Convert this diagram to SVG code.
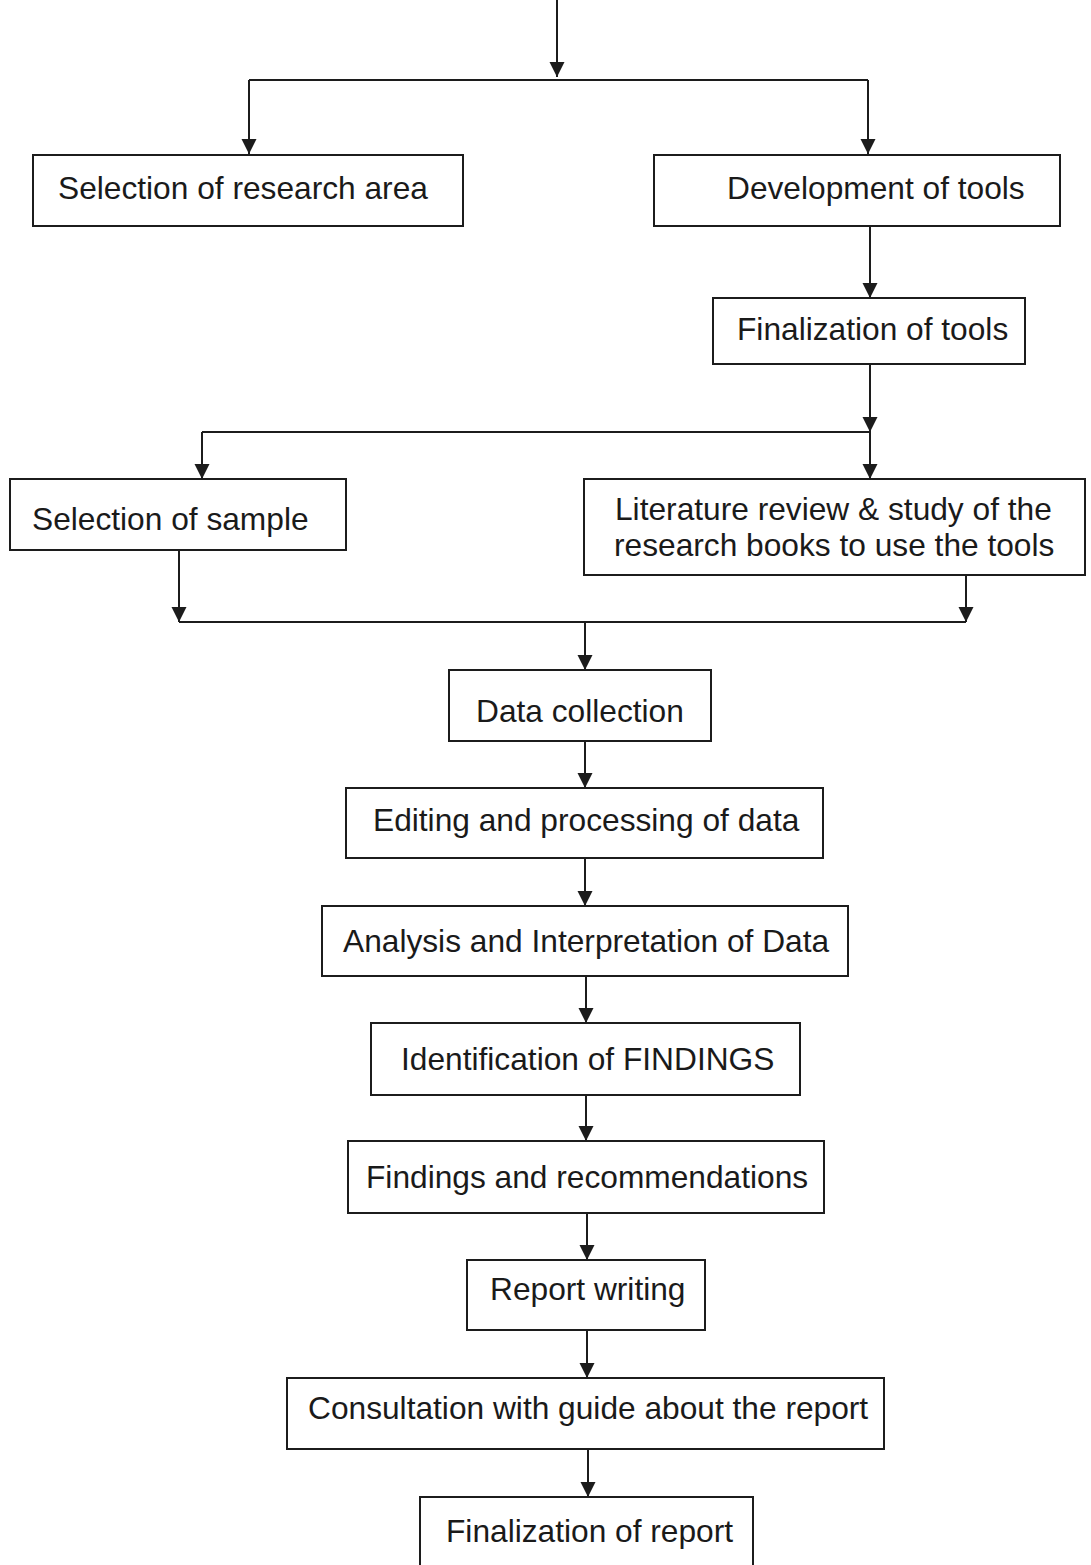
<svg xmlns="http://www.w3.org/2000/svg" width="1091" height="1565" viewBox="0 0 1091 1565">
  <defs>
    <marker id="arrow" markerUnits="userSpaceOnUse" markerWidth="16" markerHeight="18" refX="15" refY="7.5" orient="auto">
      <path d="M0,0 L15,7.5 L0,15 Z" fill="#1c1c1c"/>
    </marker>
    <style>
      .box { fill: #ffffff; stroke: #1c1c1c; stroke-width: 2; }
      .label { font-family: "Liberation Sans", Arial, sans-serif; font-size: 31.7px; fill: #1a1a1a; }
      .wire { fill: none; stroke: #1c1c1c; stroke-width: 2; }
      .arr { fill: none; stroke: #1c1c1c; stroke-width: 2; marker-end: url(#arrow); }
    </style>
  </defs>
  <rect width="1091" height="1565" fill="#ffffff"/>

  <!-- connectors -->
  <g id="connectors">
    <line class="arr" x1="557" y1="0" x2="557" y2="77"/>
    <line class="wire" x1="249" y1="80" x2="868" y2="80"/>
    <line class="arr" x1="249" y1="80" x2="249" y2="154"/>
    <line class="arr" x1="868" y1="80" x2="868" y2="154"/>

    <line class="arr" x1="870" y1="226" x2="870" y2="298"/>

    <line class="arr" x1="870" y1="364" x2="870" y2="432"/>
    <line class="wire" x1="202" y1="432" x2="870" y2="432"/>
    <line class="arr" x1="870" y1="432" x2="870" y2="479"/>
    <line class="arr" x1="202" y1="432" x2="202" y2="479"/>

    <line class="arr" x1="179" y1="550" x2="179" y2="622"/>
    <line class="arr" x1="966" y1="575" x2="966" y2="622"/>
    <line class="wire" x1="179" y1="622" x2="966" y2="622"/>
    <line class="arr" x1="585" y1="622" x2="585" y2="670"/>

    <line class="arr" x1="585" y1="741" x2="585" y2="788"/>
    <line class="arr" x1="585" y1="858" x2="585" y2="906"/>
    <line class="arr" x1="586" y1="976" x2="586" y2="1023"/>
    <line class="arr" x1="586" y1="1095" x2="586" y2="1141"/>
    <line class="arr" x1="587" y1="1213" x2="587" y2="1260"/>
    <line class="arr" x1="587" y1="1330" x2="587" y2="1378"/>
    <line class="arr" x1="588" y1="1449" x2="588" y2="1497"/>
  </g>

  <!-- nodes -->
  <g id="n-research-area">
    <rect class="box" x="33" y="155" width="430" height="71"/>
    <text class="label" x="58" y="199">Selection of research area</text>
  </g>
  <g id="n-dev-tools">
    <rect class="box" x="654" y="155" width="406" height="71"/>
    <text class="label" x="727" y="199">Development of tools</text>
  </g>
  <g id="n-final-tools">
    <rect class="box" x="713" y="298" width="312" height="66"/>
    <text class="label" x="737" y="340">Finalization of tools</text>
  </g>
  <g id="n-sample">
    <rect class="box" x="10" y="479" width="336" height="71"/>
    <text class="label" x="32" y="530">Selection of sample</text>
  </g>
  <g id="n-literature">
    <rect class="box" x="584" y="479" width="501" height="96"/>
    <text class="label" x="615" y="520">Literature review &amp; study of the</text>
    <text class="label" x="614" y="556">research books to use the tools</text>
  </g>
  <g id="n-data-collection">
    <rect class="box" x="449" y="670" width="262" height="71"/>
    <text class="label" x="476" y="722">Data collection</text>
  </g>
  <g id="n-editing">
    <rect class="box" x="346" y="788" width="477" height="70"/>
    <text class="label" x="373" y="831">Editing and processing of data</text>
  </g>
  <g id="n-analysis">
    <rect class="box" x="322" y="906" width="526" height="70"/>
    <text class="label" x="343" y="952">Analysis and Interpretation of Data</text>
  </g>
  <g id="n-identification">
    <rect class="box" x="371" y="1023" width="429" height="72"/>
    <text class="label" x="401" y="1070">Identification of FINDINGS</text>
  </g>
  <g id="n-findings">
    <rect class="box" x="348" y="1141" width="476" height="72"/>
    <text class="label" x="366" y="1188">Findings and recommendations</text>
  </g>
  <g id="n-report-writing">
    <rect class="box" x="467" y="1260" width="238" height="70"/>
    <text class="label" x="490" y="1300">Report writing</text>
  </g>
  <g id="n-consultation">
    <rect class="box" x="287" y="1378" width="597" height="71"/>
    <text class="label" x="308" y="1419">Consultation with guide about the report</text>
  </g>
  <g id="n-final-report">
    <rect class="box" x="420" y="1497" width="333" height="80"/>
    <text class="label" x="446" y="1542">Finalization of report</text>
  </g>
</svg>
